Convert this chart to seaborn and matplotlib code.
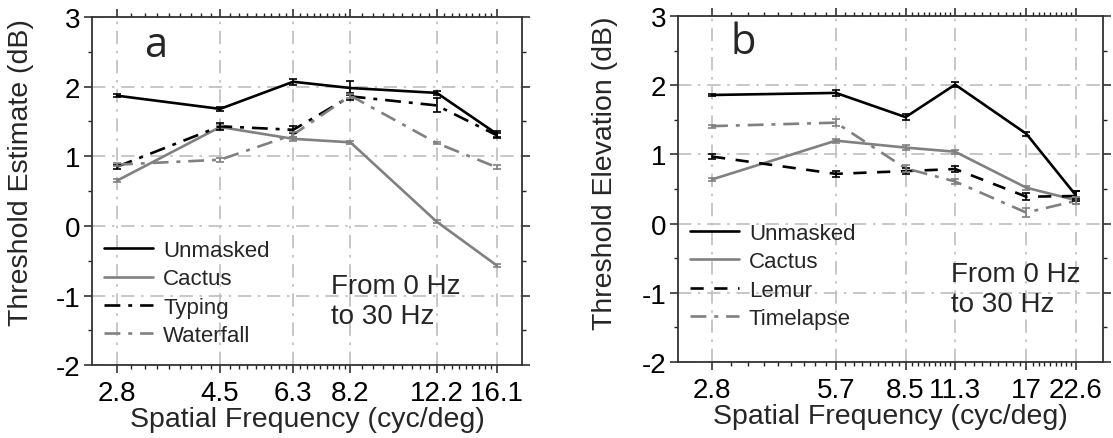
import numpy as np
import pandas as pd
import matplotlib
matplotlib.use("Agg")
import matplotlib.pyplot as plt
import matplotlib.ticker as mticker
import seaborn as sns

# ---------------- data ----------------
freq_a = [2.8, 4.5, 6.3, 8.2, 12.2, 16.1]
freq_b = [2.8, 5.7, 8.5, 11.3, 17, 22.6]
freq_a_labels = ["2.8", "4.5", "6.3", "8.2", "12.2", "16.1"]
freq_b_labels = ["2.8", "5.7", "8.5", "11.3", "17", "22.6"]

a_unmasked = [1.87, 1.68, 2.07, 1.98, 1.91, 1.32]
a_cactus = [0.65, 1.42, 1.25, 1.20, 0.06, -0.57]
a_typing = [0.85, 1.43, 1.38, 1.86, 1.73, 1.30]
a_waterfall = [0.88, 0.95, 1.31, 1.87, 1.19, 0.84]
a_unmasked_err = [0.02, 0.03, 0.04, 0.10, 0.03, 0.04]
a_cactus_err = [0.02, 0.03, 0.03, 0.02, 0.02, 0.02]
a_typing_err = [0.03, 0.05, 0.05, 0.05, 0.10, 0.04]
a_waterfall_err = [0.02, 0.03, 0.04, 0.03, 0.02, 0.03]

b_unmasked = [1.86, 1.89, 1.54, 2.01, 1.30, 0.41]
b_cactus = [0.64, 1.20, 1.10, 1.04, 0.52, 0.34]
b_lemur = [0.97, 0.72, 0.76, 0.79, 0.39, 0.40]
b_timelapse = [1.41, 1.46, 0.80, 0.61, 0.16, 0.33]
b_unmasked_err = [0.02, 0.04, 0.04, 0.04, 0.03, 0.06]
b_cactus_err = [0.02, 0.03, 0.04, 0.03, 0.03, 0.05]
b_lemur_err = [0.03, 0.04, 0.04, 0.05, 0.05, 0.07]
b_timelapse_err = [0.02, 0.05, 0.05, 0.04, 0.06, 0.05]

sns.set_theme(style="white")
plt.rcParams["font.family"] = ["Liberation Sans", "DejaVu Sans"]
plt.rcParams["axes.unicode_minus"] = False

fig = plt.figure(figsize=(11.13, 4.39), dpi=100)
ax_a = fig.add_axes([0.0827, 0.166, 0.469 - 0.0827, 0.959 - 0.166])
ax_b = fig.add_axes([0.609, 0.173, 0.991 - 0.609, 0.961 - 0.173])

BLACK = "#000000"
GRAY = "#808080"


def draw(ax, freqs, series, labels, xlim, ylabel, panel, lab_xy, leg_y, txt_xy, ylab_xy):
    ax.set_xscale("log")
    for (vals, errs, name, color, dash) in series:
        df = pd.DataFrame({"f": freqs, "v": vals})
        sns.lineplot(data=df, x="f", y="v", ax=ax, color=color, lw=1.9,
                     label=name, legend=False, zorder=3)
        l = ax.get_lines()[-1]
        if dash is not None:
            l.set_dashes(dash)
        ax.errorbar(freqs, vals, yerr=errs, fmt="none", ecolor=color,
                    elinewidth=1.2, capsize=3, capthick=1.2, zorder=4)
    ax.set_xlim(*xlim)
    ax.set_ylim(-2, 3)
    ax.xaxis.set_major_locator(mticker.FixedLocator(freqs))
    ax.xaxis.set_major_formatter(mticker.FixedFormatter(labels))
    minor = np.concatenate([np.linspace(lo, hi, 10)[1:-1]
                            for lo, hi in zip(freqs[:-1], freqs[1:])])
    ax.xaxis.set_minor_locator(mticker.FixedLocator(minor))
    ax.xaxis.set_minor_formatter(mticker.NullFormatter())
    ax.yaxis.set_major_locator(mticker.MultipleLocator(1))
    ax.yaxis.set_minor_locator(mticker.MultipleLocator(0.5))
    ax.tick_params(which="both", direction="out", top=True, right=True,
                   bottom=True, left=True,
                   labelsize=20, colors="#222222", labelcolor="black")
    ax.tick_params(which="major", length=5.5, width=1.1)
    ax.tick_params(which="minor", length=2.8, width=1.0)
    ax.tick_params(axis="x", which="major", pad=5)
    ax.tick_params(axis="y", which="major", pad=3)
    for s in ax.spines.values():
        s.set_color("#333333")
        s.set_linewidth(1.3)
    ax.grid(True, which="major", color="#bdbdbd", lw=1.2, linestyle=(0, (8, 4, 1.5, 4)))
    ax.set_xlabel("Spatial Frequency (cyc/deg)", fontsize=20.5, labelpad=0)
    ax.set_ylabel(ylabel, fontsize=20.5)
    ax.yaxis.set_label_coords(ylab_xy[0], ylab_xy[1])
    ax.text(lab_xy[0], lab_xy[1], panel, transform=ax.transAxes, fontsize=30,
            family=["Open Sans", "DejaVu Sans"], va="center", ha="left")
    ax.text(txt_xy[0], txt_xy[1], "From 0 Hz\nto 30 Hz", transform=ax.transAxes,
            fontsize=20, va="center", ha="left", linespacing=1.2)
    ax.legend(loc="center left", bbox_to_anchor=(0.0, leg_y), frameon=False,
              fontsize=16, handlelength=2.2, handletextpad=0.45,
              labelspacing=0.33, borderaxespad=0.35, borderpad=0.2)


DASHDOT = (6, 3, 1.5, 3)
draw(ax_a, freq_a, [
    (a_unmasked, a_unmasked_err, "Unmasked", BLACK, None),
    (a_cactus, a_cactus_err, "Cactus", GRAY, None),
    (a_typing, a_typing_err, "Typing", BLACK, DASHDOT),
    (a_waterfall, a_waterfall_err, "Waterfall", GRAY, DASHDOT),
], freq_a_labels, (2.495, 18.07), "Threshold Estimate (dB)", "a", (0.12, 0.92),
    0.207, (0.555, 0.185), (-0.135, 0.555))

draw(ax_b, freq_b, [
    (b_unmasked, b_unmasked_err, "Unmasked", BLACK, None),
    (b_cactus, b_cactus_err, "Cactus", GRAY, None),
    (b_lemur, b_lemur_err, "Lemur", BLACK, (5, 4)),
    (b_timelapse, b_timelapse_err, "Timelapse", GRAY, DASHDOT),
], freq_b_labels, (2.30, 26.4), "Threshold Elevation (dB)", "b", (0.125, 0.925),
    0.249, (0.643, 0.212), (-0.141, 0.549))

fig.savefig("out.png", dpi=100)
